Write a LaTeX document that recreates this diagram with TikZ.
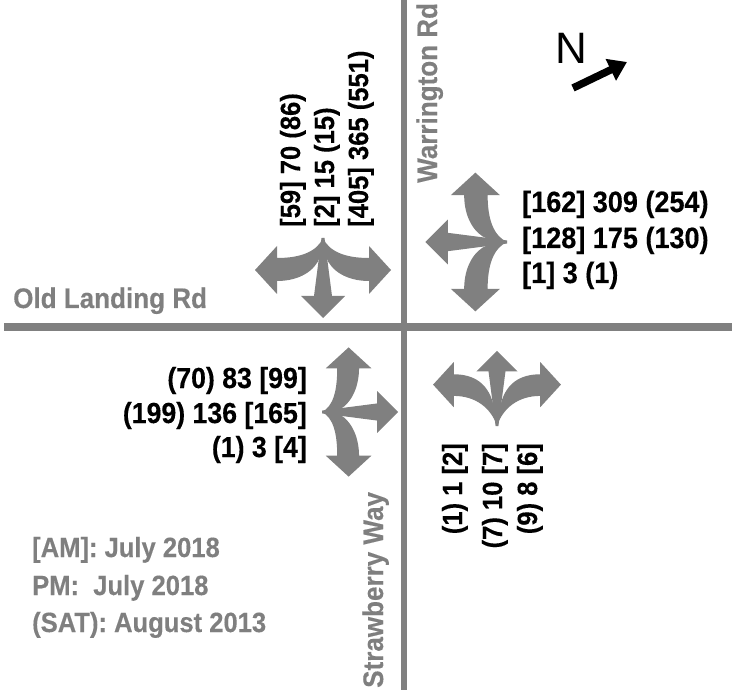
\documentclass[tikz,border=0pt]{standalone}
\usepackage{fontspec}
\setmainfont{Liberation Sans}[BoldFeatures={FakeBold=0.3}]
\usetikzlibrary{arrows.meta}
\definecolor{roadgray}{RGB}{128,128,128}
\definecolor{labelgray}{RGB}{127,127,127}
\newcommand{\condtxt}[1]{\scalebox{0.92}[1]{#1}}
\tikzset{
  pics/splitarrows/.style={code={
    \fill[roadgray] (-1.5,0) -- (-9,58) -- (-22,58) -- (0,80) -- (22,58) -- (9,58) -- (1.5,0) -- cycle;
    \fill[roadgray] (0,0) .. controls (-6,0.42*#1) and (-22,#1-12) .. (-46,#1-12) -- (-46,#1-24) -- (-68,#1) -- (-46,#1+24) -- (-46,#1+11) .. controls (-24,#1+11) and (-8,#1+1) .. (-3,19) -- cycle;
    \fill[roadgray] (0,0) .. controls (6,0.42*#1) and (22,#1-12) .. (46,#1-12) -- (46,#1-24) -- (68,#1) -- (46,#1+24) -- (46,#1+11) .. controls (24,#1+11) and (8,#1+1) .. (3,19) -- cycle;
  }},
  roadline/.style={draw=roadgray},
  numh/.style={inner sep=0pt, font=\fontsize{29}{32}\selectfont\bfseries, text=black},
  numv/.style={inner sep=0pt, font=\fontsize{27.8}{32}\selectfont\bfseries, text=black, rotate=90},
  roadlabel/.style={inner sep=0pt, font=\fontsize{28.3}{32}\selectfont\bfseries, text=labelgray},
  legendtext/.style={inner sep=0pt, font=\fontsize{27.8}{32}\selectfont\bfseries, text=labelgray, anchor=base west},
}
\begin{document}
\begin{tikzpicture}[x=1pt,y=-1pt]
\fill[white] (0,0) rectangle (732,690);
\useasboundingbox (0,0) rectangle (732,690);

% roads
\coordinate (hw) at (4,327);
\coordinate (he) at (732,327);
\coordinate (vn) at (404,0);
\coordinate (vs) at (404,690);
\draw[roadline, line width=8pt] (hw) -- (he);
\draw[roadline, line width=6pt] (vn) -- (vs);

% turning arrows
\pic (nwarrows) at (323,238) {splitarrows=32};
\pic (nearrows) at (507,242) [rotate=-90, scale=1.02] {splitarrows=31};
\pic (swarrows) at (322,412) [rotate=90, scale=0.95] {splitarrows=28};
\pic (searrows) at (497,426) [rotate=180, scale=0.94] {splitarrows=44};

% road names
\node[roadlabel, anchor=base west] (oldlanding) at (13,308) {\condtxt{Old Landing Rd}};
\node[roadlabel, anchor=base west, rotate=90] (warrington) at (437,183) {\condtxt{Warrington Rd}};
\node[roadlabel, anchor=base west, rotate=90] (strawberry) at (383,688) {\condtxt{Strawberry Way}};

% north-west volumes (vertical)
\node[numv, anchor=base west] (nw1) at (300,227) {\condtxt{[59] 70 (86)}};
\node[numv, anchor=base west] (nw2) at (334,227) {\condtxt{[2] 15 (15)}};
\node[numv, anchor=base west] (nw3) at (368,227) {\condtxt{[405] 365 (551)}};

% east volumes
\node[numh, font=\fontsize{29.4}{32}\selectfont\bfseries, anchor=base west] (e1) at (522,212) {\condtxt{[162] 309 (254)}};
\node[numh, font=\fontsize{29.4}{32}\selectfont\bfseries, anchor=base west] (e2) at (522,248) {\condtxt{[128] 175 (130)}};
\node[numh, font=\fontsize{29.4}{32}\selectfont\bfseries, anchor=base west] (e3) at (522,283) {\condtxt{[1] 3 (1)}};

% west volumes
\node[numh, anchor=base east] (w1) at (307,388) {\condtxt{(70) 83 [99]}};
\node[numh, anchor=base east] (w2) at (307,423) {\condtxt{(199) 136 [165]}};
\node[numh, anchor=base east] (w3) at (307,457) {\condtxt{(1) 3 [4]}};

% south volumes (vertical)
\node[numv, anchor=base east] (s1) at (462,443) {\condtxt{(1) 1 [2]}};
\node[numv, anchor=base east] (s2) at (502,443) {\condtxt{(7) 10 [7]}};
\node[numv, anchor=base east] (s3) at (537,443) {\condtxt{(9) 8 [6]}};

% legend
\node[legendtext] (leg1) at (32,557) {\condtxt{[AM]: July 2018}};
\node[legendtext] (leg2) at (32,595) {\condtxt{PM:\ \ July 2018}};
\node[legendtext] (leg3) at (32,632) {\condtxt{(SAT): August 2013}};

% north arrow
\node[inner sep=0pt, anchor=base west, font=\fontsize{44}{46}\selectfont] (north) at (555,64) {N};
\coordinate (ntail) at (573,88);
\coordinate (ntip) at (627,62);
\draw[line width=7.5pt, -{Triangle[length=18pt, width=23pt]}] (ntail) -- (ntip);
\end{tikzpicture}
\end{document}
